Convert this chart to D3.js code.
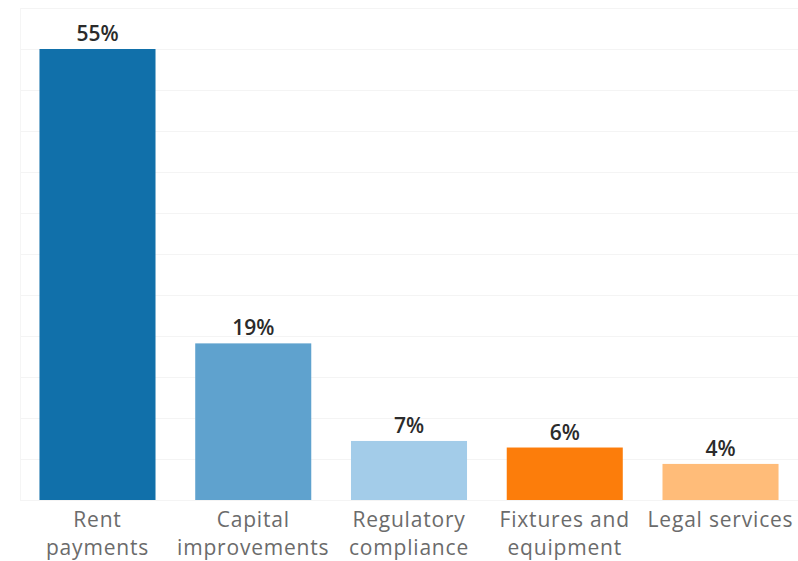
<!DOCTYPE html>
<html>
<head>
<meta charset="utf-8">
<script src="https://cdn.jsdelivr.net/npm/d3@7"></script>
<style>
  body { margin: 0; background: #fff; }
</style>
</head>
<body>
<div id="canvas"></div>
<script>
"use strict";

/* Data */
let categories = [["Rent", "payments"], ["Capital", "improvements"], ["Regulatory", "compliance"], ["Fixtures and", "equipment"], ["Legal services"]];
let shares = [55.0, 19.1, 7.2, 6.4, 4.4];
let barColors = ["#1170aa", "#5fa2ce", "#a3cce9", "#fc7d0b", "#ffbc79"];
let gridTicks = [0, 5, 10, 15, 20, 25, 30, 35, 40, 45, 50, 55, 60];

/* Drawing config */
let svgWidth = 798;
let svgHeight = 561;
let left = 20;
let baseline = 500;

let svg = d3.select("#canvas")
  .append("svg")
  .attr("width", svgWidth)
  .attr("height", svgHeight);

let xScale = d3.scaleBand()
  .domain(d3.range(shares.length))
  .range([left, svgWidth])
  .paddingInner(0.255)
  .paddingOuter(0.125);

let yScale = d3.scaleLinear()
  .domain([0, 55])
  .range([baseline, 49]);

/* faint gridlines */
svg.append("g")
  .selectAll("line")
  .data(gridTicks)
  .enter()
  .append("line")
  .attr("x1", left)
  .attr("x2", svgWidth)
  .attr("y1", function (d) { return Math.round(yScale(d)) + 0.5; })
  .attr("y2", function (d) { return Math.round(yScale(d)) + 0.5; })
  .attr("stroke", "#f4f4f4")
  .attr("stroke-width", 1);

svg.append("line")
  .attr("x1", left + 0.5)
  .attr("x2", left + 0.5)
  .attr("y1", yScale(60))
  .attr("y2", baseline)
  .attr("stroke", "#f5f5f5");

/* bars */
svg.selectAll("rect.bar")
  .data(shares)
  .enter()
  .append("rect")
  .attr("class", "bar")
  .attr("x", function (d, i) { return xScale(i); })
  .attr("y", function (d) { return yScale(d); })
  .attr("width", xScale.bandwidth())
  .attr("height", function (d) { return baseline - yScale(d); })
  .attr("fill", function (d, i) { return barColors[i]; });

/* value labels */
svg.selectAll("text.value")
  .data(shares)
  .enter()
  .append("text")
  .attr("class", "value")
  .attr("x", function (d, i) { return xScale(i) + xScale.bandwidth() / 2; })
  .attr("y", function (d) { return yScale(d) - 8; })
  .attr("text-anchor", "middle")
  .attr("font-family", "'Open Sans', sans-serif")
  .attr("font-size", "21px")
  .attr("font-weight", 600)
  .attr("fill", "#2b2b2b")
  .text(function (d) { return Math.round(d) + "%"; });

/* category labels, two lines */
let catGroups = svg.selectAll("text.cat")
  .data(categories)
  .enter()
  .append("text")
  .attr("class", "cat")
  .attr("text-anchor", "middle")
  .attr("font-family", "'Open Sans', sans-serif")
  .attr("font-size", "21px")
  .attr("letter-spacing", "0.8px")
  .attr("fill", "#6b6b6b");

catGroups.selectAll("tspan")
  .data(function (d, i) {
    return d.map(function (line) { return { line: line, i: i }; });
  })
  .enter()
  .append("tspan")
  .attr("x", function (d) { return xScale(d.i) + xScale.bandwidth() / 2; })
  .attr("y", function (d, j) { return 527 + j * 28; })
  .text(function (d) { return d.line; });
</script>
</body>
</html>
